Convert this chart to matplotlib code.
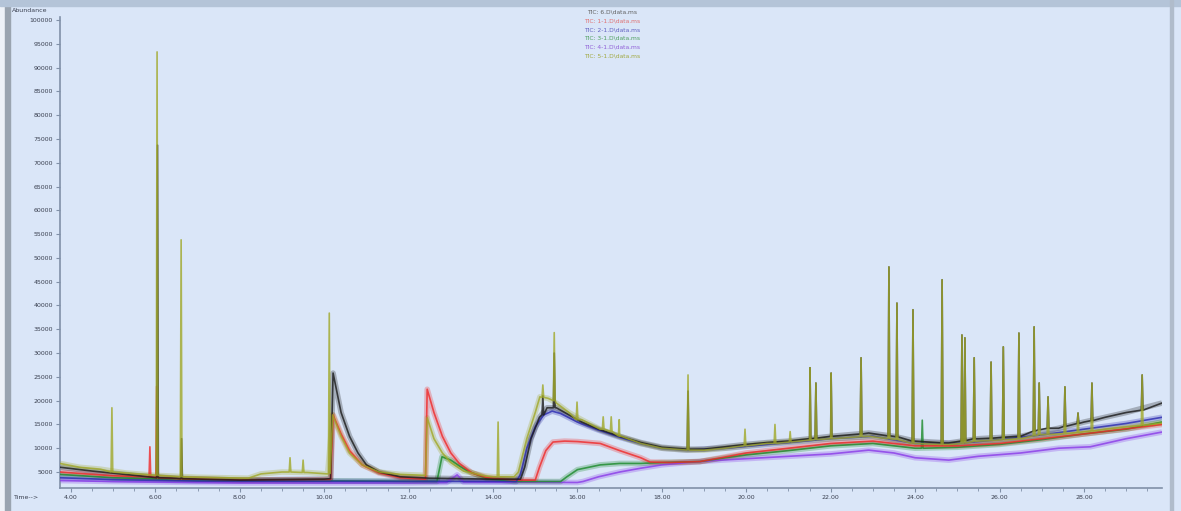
import numpy as np
import matplotlib.pyplot as plt
from matplotlib.patches import Rectangle
from matplotlib.ticker import MultipleLocator

# ---- data (time in min, abundance) ----
series_names = ["TIC: 6.D\\data.ms", "TIC: 1-1.D\\data.ms", "TIC: 2-1.D\\data.ms",
                "TIC: 3-1.D\\data.ms", "TIC: 4-1.D\\data.ms", "TIC: 5-1.D\\data.ms"]

# black trace
black_t = [3.74, 4.5, 5.5, 6.5, 8.0, 9.0, 10.0, 10.15, 10.21, 10.4, 10.6, 10.8, 11.0, 11.3, 11.8,
           12.5, 14.0, 14.65, 14.75, 14.9, 15.1, 15.28, 15.5, 15.8, 16.1, 16.5, 17.0, 17.5, 18.0,
           18.6, 19.0, 19.5, 20.0, 20.5, 21.0, 21.5, 22.0, 22.9, 23.5, 24.0, 24.8, 25.5, 26.5,
           27.4, 28.0, 28.5, 29.0, 29.85]
black_v = [6000, 5200, 4300, 3700, 3300, 3400, 3500, 3600, 25800, 17500, 12500, 9000, 6500, 5000, 4000,
           3700, 3500, 3500, 6000, 12000, 16500, 18500, 18500, 17000, 15500, 14000, 12500, 11200, 10200,
           9800, 9800, 10300, 10800, 11200, 11500, 12000, 12500, 13200, 12500, 11500, 11100, 12000, 12500,
           14200, 15500, 16500, 17500, 19500]
black_peak_t = [6.05, 6.62, 15.18, 15.45, 18.62]
black_peak_top = [73700, 12000, 21000, 30000, 22000]
black_peak_foot = [3800, 3600, 17000, 18500, 9800]

# red trace
red_t = [3.74, 5.0, 6.5, 8.0, 10.15, 10.21, 10.4, 10.6, 10.9, 11.3, 11.8, 12.4, 12.44, 12.6, 12.8,
         13.0, 13.2, 13.5, 13.86, 14.5, 15.0, 15.1, 15.25, 15.42, 15.7, 16.0, 16.54, 17.0, 17.5,
         17.72, 18.2, 18.9, 19.4, 20.0, 21.0, 22.0, 23.0, 24.0, 25.0, 26.0, 27.0, 28.0, 29.85]
red_v = [5000, 4200, 3600, 3300, 3400, 17000, 13000, 9500, 6500, 4800, 3800, 3500, 22400, 17500, 12500,
         9000, 6800, 4800, 3800, 3300, 3300, 6000, 9500, 11300, 11500, 11400, 11000, 9500, 8000,
         7100, 7000, 7200, 8000, 9000, 10000, 11000, 11500, 10500, 10500, 11000, 12000, 13000, 15000]
red_peak_t = [5.87, 6.03]
red_peak_top = [10300, 23000]
red_peak_foot = [4000, 3800]

# blue trace
blue_t = [3.74, 5.0, 7.0, 14.55, 14.65, 14.8, 15.0, 15.2, 15.4, 15.6, 16.0, 16.5, 17.0, 17.5, 18.0,
          18.6, 19.5, 20.5, 22.0, 23.0, 24.0, 25.0, 26.0, 27.0, 28.0, 29.0, 29.85]
blue_v = [3800, 3400, 3100, 3000, 4500, 10000, 14500, 17000, 17800, 17300, 15500, 13800, 12300, 11000, 10000,
          9600, 10000, 10800, 12000, 12500, 11000, 11000, 11800, 12800, 14000, 15200, 16500]

# green trace
green_t = [3.74, 5.0, 7.0, 12.67, 12.79, 13.0, 13.2, 13.4, 13.86, 14.5, 15.6, 15.75, 16.0, 16.54, 17.0,
           17.5, 18.0, 18.9, 19.5, 20.0, 21.0, 22.0, 23.0, 24.0, 25.0, 26.0, 27.0, 28.0, 29.0, 29.85]
green_v = [4500, 3800, 3300, 3000, 8200, 7500, 6300, 5200, 3600, 3000, 3000, 4000, 5500, 6500, 6800,
           6800, 7000, 7200, 8000, 8600, 9500, 10500, 11000, 10000, 10200, 10800, 11800, 13000, 14000, 15500]
green_peak_t = [24.17]
green_peak_top = [15900]
green_peak_foot = [10000]

# purple trace
purple_t = [3.74, 5.0, 8.0, 12.0, 12.9, 13.15, 13.3, 16.0, 16.13, 16.5, 17.0, 17.5, 18.0, 18.6, 19.4,
            20.0, 21.0, 22.0, 22.9, 23.5, 24.0, 24.8, 25.5, 26.5, 27.4, 28.15, 28.5, 29.0, 29.85]
purple_v = [3200, 3000, 2700, 2700, 2800, 4400, 2900, 2800, 3000, 4000, 5000, 5800, 6500, 7000, 7500,
            7800, 8300, 8800, 9600, 9000, 8000, 7500, 8300, 9000, 10000, 10300, 11000, 12000, 13400]

# olive trace
olive_t = [3.74, 4.2, 4.7, 5.3, 6.0, 7.0, 8.2, 8.5, 9.0, 9.6, 10.08, 10.2, 10.4, 10.6,
           10.9, 11.3, 11.8, 12.4, 12.44, 12.6, 12.8, 13.0, 13.3, 13.8, 14.0, 14.5, 14.6, 14.8, 15.0,
           15.11, 15.3, 15.5, 15.8, 16.1, 16.54, 17.0, 17.5, 18.0, 18.6, 19.0, 19.5, 20.0, 20.5, 21.0,
           21.5, 22.0, 22.9, 23.4, 24.0, 24.8, 25.5, 26.5, 27.4, 28.0, 28.5, 29.0, 29.85]
olive_v = [6800, 6000, 5600, 4800, 4300, 3900, 3700, 4600, 5000, 4900, 4600, 17000, 12500, 9000,
           6500, 5000, 4500, 4300, 16400, 12000, 9000, 7000, 5200, 4200, 4000, 4000, 5000, 12000, 17500,
           20800, 20500, 19500, 17500, 16000, 14000, 12500, 11000, 10000, 9600, 9600, 10000, 10500, 11000, 11300,
           11700, 12000, 12500, 12000, 11000, 10800, 11500, 12000, 13000, 13500, 14000, 14500, 15300]
olive_peak_t = [4.97, 6.04, 6.61, 9.19, 9.50, 10.12, 14.12, 15.18, 15.45, 15.99, 16.61, 16.80, 16.99,
                18.62, 19.97, 20.68, 21.04]
olive_peak_top = [18500, 93300, 53800, 8000, 7500, 38400, 15500, 23300, 34300, 19700, 16600, 16600, 16000,
                  25400, 14000, 15000, 13500]
olive_peak_foot = [5000, 4300, 4000, 5000, 4900, 4700, 4000, 20700, 20000, 16000, 14000, 13500, 12600,
                   9600, 10500, 11000, 11300]

# late peaks shared by the overlaid runs
late_t = [21.51, 21.65, 22.01, 22.72, 23.38, 23.57, 23.95, 24.64, 25.11, 25.18, 25.40, 25.80, 26.09,
          26.46, 26.82, 26.94, 27.15, 27.55, 27.86, 28.19, 29.38]
late_top = [26900, 23700, 25800, 29000, 48100, 40500, 39100, 45400, 33800, 33200, 29000, 28100, 31300,
            34200, 35500, 23700, 20800, 22900, 17400, 23700, 25400]
olive_late_foot = [11700, 11800, 12000, 12400, 12000, 11800, 11000, 10800, 11000, 11100, 11400, 11600, 11800,
                   12000, 12600, 12800, 12900, 13100, 13300, 13600, 14800]
black_late_foot = [12000, 12100, 12500, 13000, 12600, 12400, 11500, 11100, 11500, 11600, 12000, 12100, 12300,
                   12500, 13600, 13900, 14200, 14600, 15200, 15800, 18000]

x_ticks = [4, 6, 8, 10, 12, 14, 16, 18, 20, 22, 24, 26, 28]
y_ticks = list(range(5000, 100001, 5000))

colors = ['#1a1a1a', '#f02828', '#2a2ab0', '#1a8a2a', '#8a3ae8', '#a0a828']
bg = '#dae6f8'


def build_trace(knot_t, knot_v, peaks=()):
    # merge baseline knots with narrow peak triangles (foot, top, foot)
    t = list(knot_t)
    v = list(knot_v)
    hw = 0.02
    for pt, top, foot in peaks:
        t += [pt - hw, pt, pt + hw]
        v += [foot, top, foot]
    order = np.argsort(t, kind='stable')
    return np.array(t)[order], np.array(v)[order]


fig = plt.figure(figsize=(11.81, 5.11), dpi=100)
fig.patch.set_facecolor(bg)

# screenshot frame bits
fig.patches.append(Rectangle((0, 0), 5 / 1181, 1, transform=fig.transFigure, color='#eef2f8', zorder=0))
fig.patches.append(Rectangle((5 / 1181, 0), 5 / 1181, 1, transform=fig.transFigure, color='#9aa4b0', zorder=0))
fig.patches.append(Rectangle((0, 1 - 6 / 511), 1, 6 / 511, transform=fig.transFigure, color='#b4c4d8', zorder=0))
fig.patches.append(Rectangle((1170 / 1181, 0), 3 / 1181, 1, transform=fig.transFigure, color='#b0bccb', zorder=0))

ax = fig.add_axes([60 / 1181, 23 / 511, 1102 / 1181, 471 / 511])
ax.set_facecolor(bg)

# drawing order: purple at the back, olive on top
traces = [
    (purple_t, purple_v, [], colors[4]),
    (green_t, green_v, list(zip(green_peak_t, green_peak_top, green_peak_foot)), colors[3]),
    (red_t, red_v, list(zip(red_peak_t, red_peak_top, red_peak_foot)), colors[1]),
    (blue_t, blue_v, [], colors[2]),
    (black_t, black_v, list(zip(black_peak_t, black_peak_top, black_peak_foot))
     + list(zip(late_t, late_top, black_late_foot)), colors[0]),
    (olive_t, olive_v, list(zip(olive_peak_t, olive_peak_top, olive_peak_foot))
     + list(zip(late_t, late_top, olive_late_foot)), colors[5]),
]

for kt, kv, pk, c in traces:
    # soft band standing in for detector noise
    ax.plot(kt, kv, color=c, lw=4, alpha=0.28, solid_capstyle='butt', zorder=2)
    tt, vv = build_trace(kt, kv, pk)
    ax.plot(tt, vv, color=c, lw=1.2, alpha=0.8, zorder=3)

ax.set_xlim(3.74, 29.85)
ax.set_ylim(1640, 100640)

ax.set_xticks(x_ticks)
ax.set_xticklabels([f"{x:.2f}" for x in x_ticks])
ax.xaxis.set_minor_locator(MultipleLocator(0.5))
ax.set_yticks(y_ticks)
ax.set_yticklabels([str(y) for y in y_ticks])
ax.tick_params(axis='both', labelsize=4.5, colors='#8090a8', labelcolor='#3a4050', length=3, width=0.8, pad=2)
ax.tick_params(axis='x', which='minor', length=2, colors='#8090a8')

for s in ['top', 'right']:
    ax.spines[s].set_visible(False)
for s in ['left', 'bottom']:
    ax.spines[s].set_color('#8090a8')
    ax.spines[s].set_linewidth(1.2)

fig.text(12 / 1181, 1 - 10 / 511, "Abundance", fontsize=4.5, color='#3a4050', va='center', ha='left')
fig.text(14 / 1181, 1 - 497 / 511, "Time-->", fontsize=4.5, color='#3a4050', va='center', ha='left')

# legend block at top centre
legend_colors = ['#606060', '#e07070', '#6060c0', '#50a060', '#9060d8', '#a0a840']
for i, (name, c) in enumerate(zip(series_names, legend_colors)):
    fig.text(612 / 1181, 1 - (12 + i * 8.8) / 511, name, fontsize=4.3, color=c, ha='center', va='center')

fig.savefig("out.png", dpi=100, facecolor=fig.get_facecolor())
